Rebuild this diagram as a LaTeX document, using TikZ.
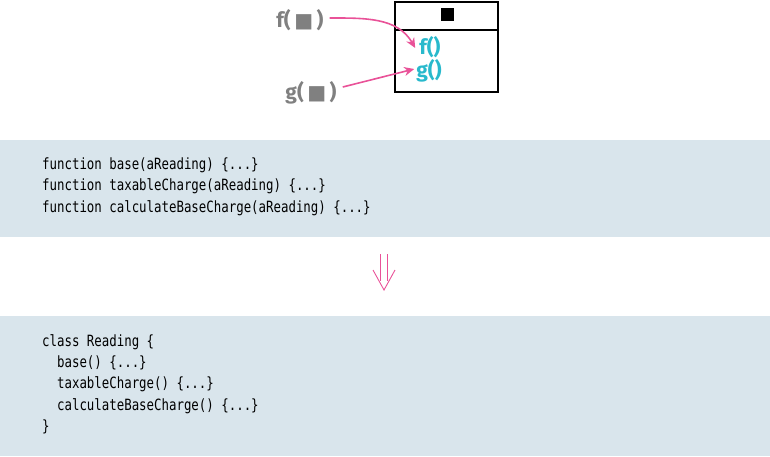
\documentclass[tikz,border=0pt]{standalone}
\usepackage{fontspec}
\setmainfont{Fira Sans}
\newfontfamily\codefont[FakeStretch=0.8]{DejaVu Sans Mono}
\newfontfamily\symfont{DejaVu Sans}
\usetikzlibrary{arrows.meta}
\definecolor{pinkc}{RGB}{233,82,152}
\definecolor{tealc}{RGB}{40,185,204}
\definecolor{greyc}{RGB}{128,128,128}
\definecolor{bandc}{RGB}{217,229,236}
\tikzset{
  grey label/.style={text=greyc, font=\bfseries\fontsize{21}{22}\selectfont, inner sep=0pt},
  method/.style={text=tealc, font=\bfseries\fontsize{21}{22}\selectfont, inner sep=0pt},
  codeline/.style={anchor=west, inner sep=0pt, font=\codefont\fontsize{15.5}{18}\selectfont},
  pinkarrow/.style={draw=pinkc, line width=1.6pt, -{Stealth[length=10pt,width=9pt]}},
  band/.style={fill=bandc, draw=none}
}
\begin{document}
\begin{tikzpicture}[x=1pt,y=-1pt]
\useasboundingbox (0,0) rectangle (770,456);
% box
\draw[line width=1.4pt] (395,2) rectangle (498,92);
\draw[line width=1.4pt] (395,30) -- (498,30);
\node[fill=black, minimum size=13pt, inner sep=0pt] (hdr) at (447,14) {};
\node[method] (fm) at (430,47) {f()};
\node[method] (gm) at (429,71) {g()};
\node[grey label] (fl) at (300,20) {f(\,{\symfont\fontsize{20}{20}\selectfont ■}\,)};
\node[grey label] (gl) at (311,93) {g(\,{\symfont\fontsize{20}{20}\selectfont ■}\,)};
\draw[pinkarrow] (fl.east) ++(6,-2) coordinate (fs) to[out=0, in=120] ([xshift=-4pt,yshift=-1pt]fm.west);
\draw[pinkarrow] (gl.east) ++(6,-6) coordinate (gs) -- ([xshift=-2pt,yshift=2pt]gm.west);
% band 1
\fill[band] (0,140) rectangle (770,237);
\node[codeline] (c1) at (42,165) {function base(aReading) \{...\}};
\node[codeline] (c2) at (42,186) {function taxableCharge(aReading) \{...\}};
\node[codeline] (c3) at (42,208) {function calculateBaseCharge(aReading) \{...\}};
% double arrow
\draw[pinkc, line width=0.9pt] (380.5,254) -- (380.5,281) (387,254) -- (387,281);
\draw[pinkc, line width=0.9pt] (373,270) -- (384,290) -- (395,270);
% band 2
\fill[band] (0,316) rectangle (770,456);
\node[codeline] (d1) at (42,342) {class Reading \{};
\node[codeline] (d2) at (42,363) {\ \ base() \{...\}};
\node[codeline] (d3) at (42,384) {\ \ taxableCharge() \{...\}};
\node[codeline] (d4) at (42,406) {\ \ calculateBaseCharge() \{...\}};
\node[codeline] (d5) at (42,427) {\}};
\end{tikzpicture}
\end{document}
